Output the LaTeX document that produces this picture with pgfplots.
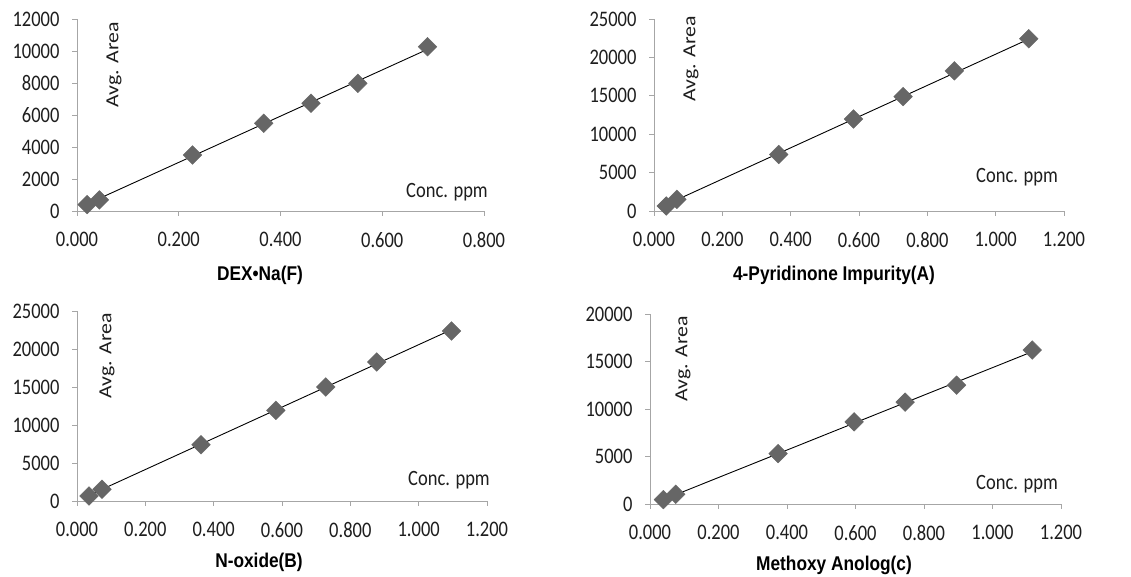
\documentclass[border=0pt]{standalone}
\usepackage{pgfplots}
\pgfplotsset{compat=1.18}
\usepackage{fontspec}
\setmainfont{Carlito}
\newfontfamily\arialf{Liberation Sans}
\usepackage{graphicx}
\definecolor{axgray}{HTML}{A6A6A6}
\definecolor{mk}{HTML}{666666}
\definecolor{txt}{HTML}{1E1E1E}
\pgfplotsset{
  panel/.style={
    scale only axis,
    axis x line*=bottom, axis y line*=left,
    axis line style={draw=axgray,-, line width=0.9pt},
    tick style={draw=axgray, line width=0.9pt},
    tick align=outside,
    major tick length=5pt,
    xtick pos=bottom, ytick pos=left,
    xmin=0, ymin=0,
    scaled ticks=false,
    /pgf/number format/assume math mode=true,
    tick label style={font=\fontsize{18.5}{20}\selectfont, text=txt},
    xticklabel={\scalebox{1}[1.2]{\pgfmathprintnumber[fixed,fixed zerofill,precision=3]{\tick}}},
    yticklabel={\scalebox{1}[1.2]{\pgfmathprintnumber[fixed,precision=0,1000 sep={}]{\tick}}},
    xticklabel style={yshift=-13pt},
    yticklabel style={xshift=-9pt},
    clip=false,
  },
  pts/.style={only marks, mark=square*, mark size=6.6pt, mark options={rotate=45, fill=mk, draw=mk}},
  fit/.style={no marks, black, line width=0.9pt},
}
\newcommand{\avg}[1]{\node[rotate=90, text=txt, font=\fontsize{18.5}{20}\selectfont] at #1 {\scalebox{1.18}[1]{Avg. Area}};}
\newcommand{\conc}[1]{\node[text=txt, font=\fontsize{18.5}{20}\selectfont] at #1 {\scalebox{1}[1.18]{Conc. ppm}};}
\newcommand{\ttl}[2]{\node[text=black, font=\arialf\bfseries\fontsize{17.3}{19}\selectfont] at #1 {\scalebox{1}[1.15]{#2}};}
\begin{document}
\begin{tikzpicture}[x=1pt,y=1pt]
\useasboundingbox (0,0) rectangle (1131,577);
\fill[white] (0,0) rectangle (1131,577);
% Panel 1
\begin{axis}[panel, at={(77pt,366pt)}, anchor=south west, width=407pt, height=192pt,
  xmax=0.8, ymax=12000, xtick={0,0.2,...,0.8}, ytick={0,2000,...,12000}]
\addplot[pts] coordinates {(0.020,400)(0.044,690)(0.227,3500)(0.367,5480)(0.460,6730)(0.552,7980)(0.689,10270)};
\addplot[fit] coordinates {(0.020,437)(0.689,10104)};
\end{axis}
% Panel 2
\begin{axis}[panel, at={(654pt,366pt)}, anchor=south west, width=410pt, height=192pt,
  xmax=1.2, ymax=25000, xtick={0,0.2,...,1.2}, ytick={0,5000,...,25000}]
\addplot[pts] coordinates {(0.036,650)(0.067,1520)(0.365,7360)(0.584,11980)(0.729,14900)(0.879,18250)(1.097,22430)};
\addplot[fit] coordinates {(0.036,830)(1.097,22390)};
\end{axis}
% Panel 3
\begin{axis}[panel, at={(77pt,76pt)}, anchor=south west, width=410pt, height=190pt,
  xmax=1.2, ymax=25000, xtick={0,0.2,...,1.2}, ytick={0,5000,...,25000}]
\addplot[pts] coordinates {(0.035,660)(0.073,1540)(0.363,7410)(0.582,11930)(0.728,15000)(0.877,18290)(1.096,22370)};
\addplot[fit] coordinates {(0.035,750)(1.096,22540)};
\end{axis}
% Panel 4
\begin{axis}[panel, at={(650pt,73pt)}, anchor=south west, width=411pt, height=190pt,
  xmax=1.2, ymax=20000, xtick={0,0.2,...,1.2}, ytick={0,5000,...,20000}]
\addplot[pts] coordinates {(0.039,460)(0.075,1020)(0.374,5310)(0.596,8650)(0.745,10720)(0.895,12510)(1.116,16200)};
\addplot[fit] coordinates {(0.039,460)(1.116,16030)};
\end{axis}
\avg{(114,512)} \conc{(447,385)} \ttl{(260,302)}{DEX•Na(F)}
\avg{(691,518)} \conc{(1017,400)} \ttl{(834,302)}{4-Pyridinone Impurity(A)}
\avg{(107,221)} \conc{(449,97)} \ttl{(259,15)}{N-oxide(B)}
\avg{(683,218)} \conc{(1017,93)} \ttl{(834,12)}{Methoxy Anolog(c)}
\end{tikzpicture}
\end{document}
